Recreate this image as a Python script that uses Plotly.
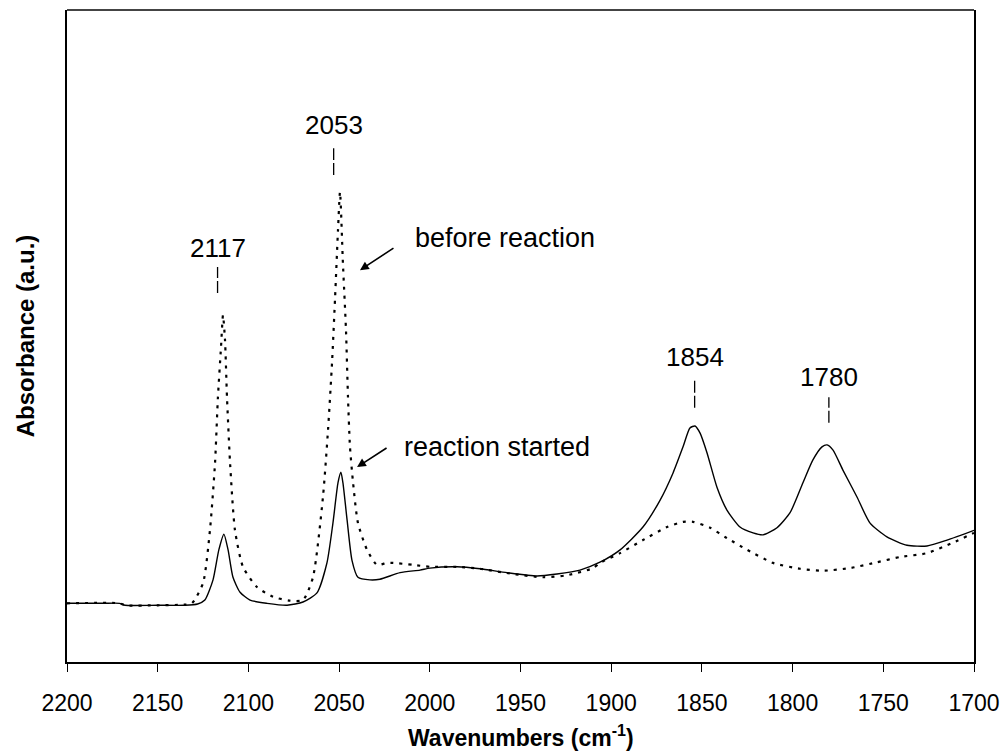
import plotly.graph_objects as go

# IR spectra (absorbance in arbitrary units) vs wavenumber (cm-1)
wn_started = [2200, 2180, 2171, 2168, 2150, 2135, 2128, 2124, 2119.5, 2116.3, 2113.5,
              2111.2, 2108.5, 2104.6, 2099.1, 2089.7, 2078.7, 2069.9, 2062.2, 2056.7,
              2053.4, 2050.6, 2049.0, 2047.9, 2045.6, 2042.9, 2039.6, 2033.0, 2027.5,
              2016.4, 2005.4, 1999.9, 1985.0, 1972.3, 1957.4, 1940.9, 1929.9, 1917.2,
              1906.2, 1895.1, 1882.5, 1873.1, 1865.9, 1860.4, 1856.6, 1853.8, 1851.0,
              1847.2, 1841.7, 1836.2, 1829.0, 1821.8, 1816.3, 1808.6, 1801.4, 1794.3,
              1788.8, 1783.8, 1781.0, 1777.7, 1772.2, 1764.5, 1757.3, 1748.0, 1736.9,
              1725.9, 1714.9, 1700]
abs_started = [0.090, 0.090, 0.090, 0.087, 0.087, 0.087, 0.089, 0.095, 0.126, 0.172, 0.196,
               0.172, 0.130, 0.107, 0.095, 0.090, 0.087, 0.092, 0.106, 0.152,
               0.213, 0.275, 0.291, 0.275, 0.218, 0.156, 0.130, 0.126, 0.127,
               0.137, 0.141, 0.144, 0.146, 0.143, 0.137, 0.132, 0.135, 0.141,
               0.153, 0.172, 0.207, 0.248, 0.290, 0.330, 0.359, 0.362, 0.351,
               0.321, 0.268, 0.233, 0.207, 0.198, 0.195, 0.206, 0.229, 0.275,
               0.310, 0.330, 0.333, 0.325, 0.294, 0.253, 0.213, 0.192, 0.179,
               0.178, 0.187, 0.202]

wn_before = [2200, 2171, 2168, 2150, 2135, 2131.1, 2125.0, 2121.2, 2118.4, 2116.8, 2115.1,
             2114.0, 2112.9, 2111.8, 2110.1, 2107.4, 2103.0, 2095.3, 2086.4, 2077.1,
             2069.9, 2064.4, 2058.9, 2056.1, 2053.9, 2052.2, 2050.6, 2049.5, 2047.9,
             2046.2, 2045.1, 2044.0, 2042.3, 2039.6, 2034.6, 2029.1, 2023.6, 2020.3,
             2009.3, 1999.9, 1985.0, 1972.3, 1954.1, 1937.6, 1924.4, 1910.0, 1906.2,
             1895.1, 1882.5, 1869.2, 1860.4, 1854.9, 1845.5, 1836.2, 1825.0, 1810.8,
             1795.9, 1783.2, 1768.4, 1753.5, 1740.8, 1725.9, 1711.6, 1700]
abs_before = [0.090, 0.090, 0.087, 0.087, 0.088, 0.090, 0.121, 0.202, 0.305, 0.406, 0.483,
              0.532, 0.494, 0.406, 0.305, 0.202, 0.146, 0.115, 0.100, 0.094,
              0.095, 0.130, 0.253, 0.356, 0.459, 0.560, 0.663, 0.721, 0.612,
              0.509, 0.406, 0.330, 0.275, 0.213, 0.172, 0.149, 0.152, 0.152,
              0.149, 0.146, 0.146, 0.143, 0.135, 0.130, 0.133, 0.144, 0.152,
              0.167, 0.187, 0.207, 0.215, 0.215, 0.206, 0.190, 0.172, 0.152,
              0.143, 0.140, 0.144, 0.153, 0.161, 0.167, 0.183, 0.198]

# Band positions (cm-1) marked above the peaks
peak_labels = [2117, 2053, 1854, 1780]

x_ticks = [2200, 2150, 2100, 2050, 2000, 1950, 1900, 1850, 1800, 1750, 1700]

FONT = "Arial, 'Liberation Sans', sans-serif"

fig = go.Figure()
fig.add_trace(go.Scatter(
    x=wn_before, y=abs_before, mode="lines", name="before reaction",
    line=dict(color="black", width=2.2, dash="3px,6px", shape="spline", smoothing=0.6),
))
fig.add_trace(go.Scatter(
    x=wn_started, y=abs_started, mode="lines", name="reaction started",
    line=dict(color="black", width=1.4, shape="spline", smoothing=0.6),
))

# label text height and marker-line span for each band
label_y = [0.635, 0.824, 0.468, 0.437]
tick_span = [(0.566, 0.606), (0.747, 0.788), (0.390, 0.433), (0.367, 0.406)]

annotations = []
shapes = []
for wn, ty, (y0, y1) in zip(peak_labels, label_y, tick_span):
    annotations.append(dict(
        x=wn, y=ty, xref="x", yref="y", text=str(wn), showarrow=False,
        font=dict(family=FONT, size=26, color="black"), xanchor="center", yanchor="middle",
    ))
    shapes.append(dict(
        type="line", xref="x", yref="y", x0=wn, x1=wn, y0=y0, y1=y1,
        line=dict(color="black", width=1.3, dash="12px,3px"),
    ))

# arrows pointing at the 2053 band of each spectrum
annotations += [
    dict(x=2038.5, y=0.601, xref="x", yref="y", ax=35, ay=-23, text="",
         showarrow=True, arrowhead=2, arrowsize=1.1, arrowwidth=1.6,
         arrowcolor="black", standoff=0),
    dict(x=2040.1, y=0.299, xref="x", yref="y", ax=31, ay=-20, text="",
         showarrow=True, arrowhead=2, arrowsize=1.1, arrowwidth=1.6,
         arrowcolor="black", standoff=0),
    dict(x=2009.3, y=0.650, xref="x", yref="y", text="before reaction",
         showarrow=False, xanchor="left", yanchor="middle",
         font=dict(family=FONT, size=27, color="black")),
    dict(x=2015.3, y=0.330, xref="x", yref="y", text="reaction started",
         showarrow=False, xanchor="left", yanchor="middle",
         font=dict(family=FONT, size=27, color="black")),
    # x-axis title
    dict(x=0.5, y=-0.113, xref="paper", yref="paper",
         text="<b>Wavenumbers (cm<sup>-1</sup>)</b>", showarrow=False,
         xanchor="center", yanchor="middle",
         font=dict(family=FONT, size=23, color="black")),
]

# top frame line of the plot area
shapes.append(dict(type="line", xref="paper", yref="paper", x0=0, x1=1, y0=1, y1=1,
                   line=dict(color="#444444", width=2)))

fig.update_layout(
    width=1002, height=752,
    margin=dict(l=67, r=28, t=10, b=90),
    paper_bgcolor="white", plot_bgcolor="white",
    showlegend=False,
    font=dict(family=FONT, color="black"),
    annotations=annotations,
    shapes=shapes,
    xaxis=dict(
        range=[2200, 1700], tickvals=x_ticks, ticks="outside", ticklen=8,
        tickwidth=1.3, tickcolor="black", showline=True, linecolor="black",
        linewidth=1.5, mirror=False, showgrid=False, zeroline=False,
        automargin=False, ticklabelstandoff=12,
        tickfont=dict(family=FONT, size=23, color="black"),
    ),
    yaxis=dict(
        range=[0, 1], showticklabels=False, ticks="", showline=True,
        linecolor="black", linewidth=1.5, mirror=True, showgrid=False, zeroline=False,
        automargin=False,
        title=dict(text="<b>Absorbance (a.u.)</b>",
                   font=dict(family=FONT, size=24, color="black"), standoff=24),
    ),
)

fig.write_html("out.html")
